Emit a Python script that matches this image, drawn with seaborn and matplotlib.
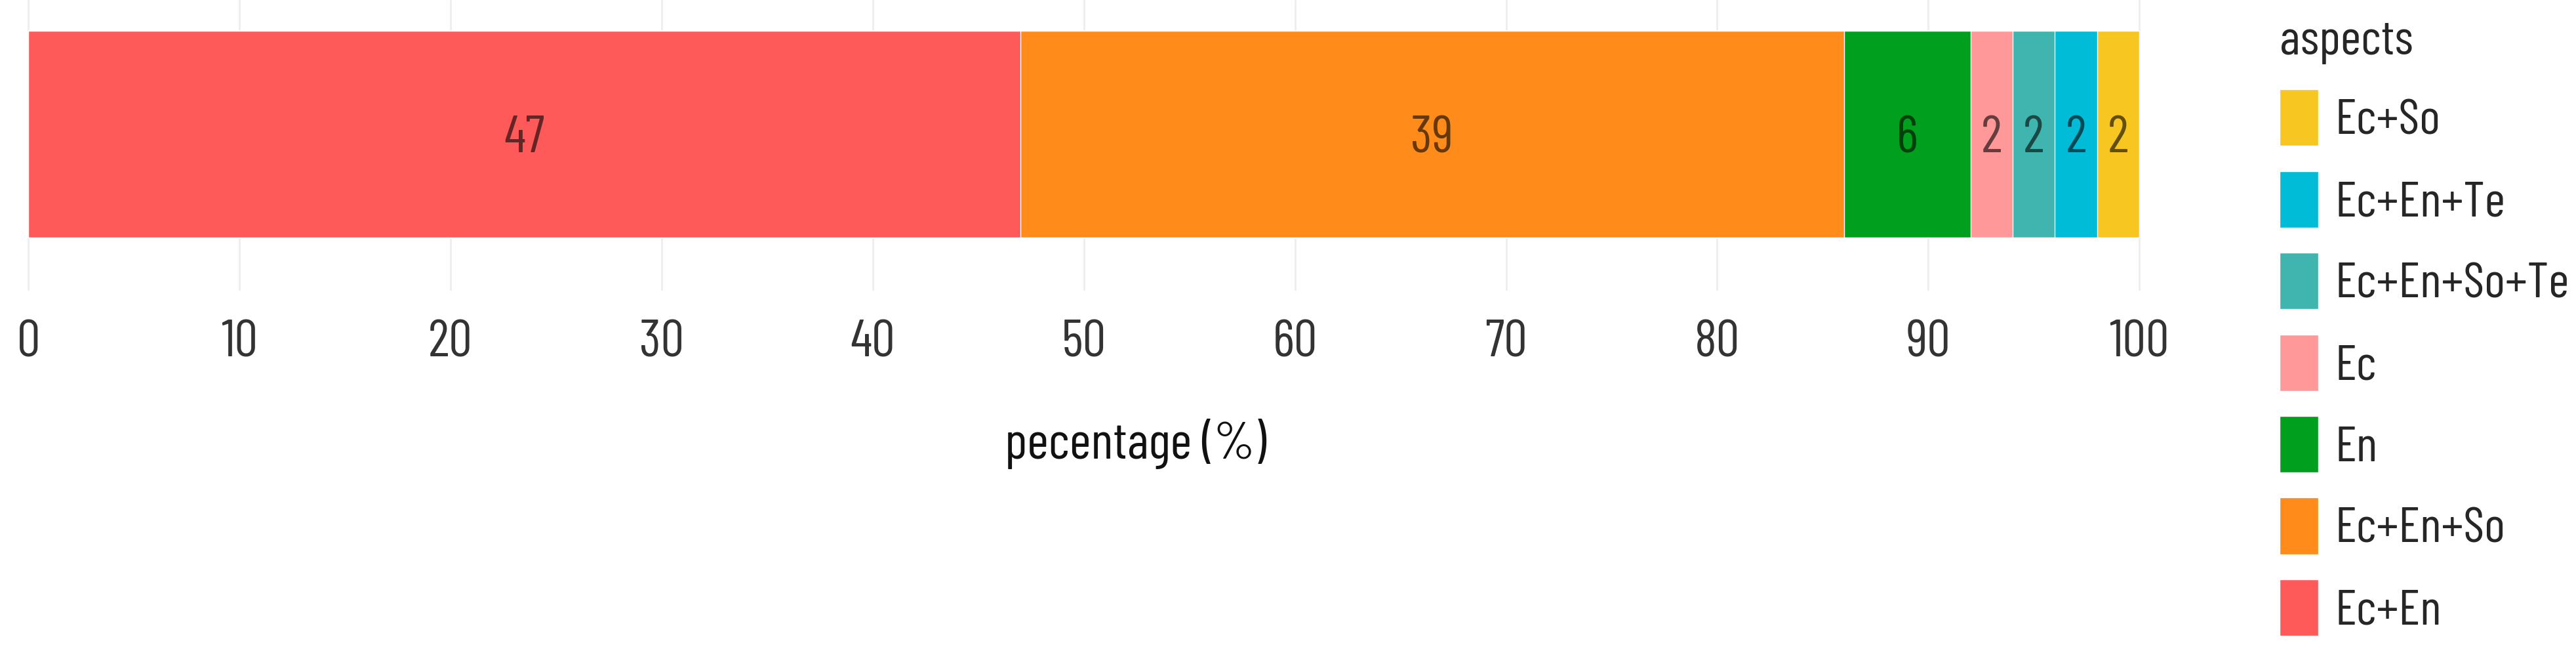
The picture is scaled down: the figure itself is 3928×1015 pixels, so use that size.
import numpy as np
import pandas as pd
import seaborn as sns
import matplotlib.pyplot as plt
from matplotlib.colors import to_rgb

# data
aspects = ['Ec+En', 'Ec+En+So', 'En', 'Ec', 'Ec+En+So+Te', 'Ec+En+Te', 'Ec+So']
values = [47, 39, 6, 2, 2, 2, 2]
colors = ['#FF5A5A', '#FF8C1A', '#00A01E', '#FF9999', '#40B4AE', '#00BCD6', '#F8C620']

df = pd.DataFrame({'aspects': aspects, 'value': values, 'group': 'all'})
df['cum'] = df['value'].cumsum()

sns.set_style('white')
plt.rcParams['font.family'] = ['Barlow Condensed', 'DejaVu Sans']
FS = 57.6
LFS = 55

fig = plt.figure(figsize=(39.28, 10.15), dpi=100)
ax = fig.add_axes([11 / 3928, 1 - 443 / 1015, 3380 / 3928, 443 / 1015])

# stacked bar: draw cumulative bars, widest first, so each segment shows
pal = dict(zip(aspects, colors))
sns.barplot(data=df, x='cum', y='group', hue='aspects', hue_order=aspects[::-1],
            palette=pal, dodge=False, width=0.7, saturation=1, orient='h', ax=ax)

# value labels in a darker shade of each segment
for c, v, col in zip(df['cum'], df['value'], colors):
    dark = tuple(0.4 * np.array(to_rgb(col)))
    ax.annotate(str(v), (c - v / 2, 0), xytext=(0, -20), textcoords='offset points',
                ha='center', va='baseline', fontsize=FS, color=dark)

ax.set_xlim(-1, 104)
ax.set_ylim(0.53, -0.454)
ax.set_xticks(range(0, 101, 10))
ax.set_yticks([])
ax.set_ylabel('')
ax.grid(axis='x', color='#EEEEEE', lw=2)
ax.set_axisbelow(True)
sns.despine(ax=ax, left=True, bottom=True)
ax.tick_params(axis='x', length=0, pad=32, labelsize=FS, labelcolor='#333333')
ax.set_xlabel('pecentage (%)', fontsize=FS, color='#111111')
ax.xaxis.label.set_va('center')
ax.xaxis.set_label_coords(0.509, -0.526)

# legend on the right, same order as the seaborn hue_order
h, l = ax.get_legend_handles_labels()
ax.legend(h, l, title='aspects', loc='upper left', bbox_to_anchor=(3476 / 3928, 1 - 30 / 1015),
          bbox_transform=fig.transFigure, frameon=False, borderpad=0, borderaxespad=0,
          fontsize=LFS, title_fontsize=LFS, alignment='left', handlelength=0.775,
          handleheight=1.36, labelspacing=0.5, handletextpad=0.33)

plt.savefig('out.png', dpi=100)
